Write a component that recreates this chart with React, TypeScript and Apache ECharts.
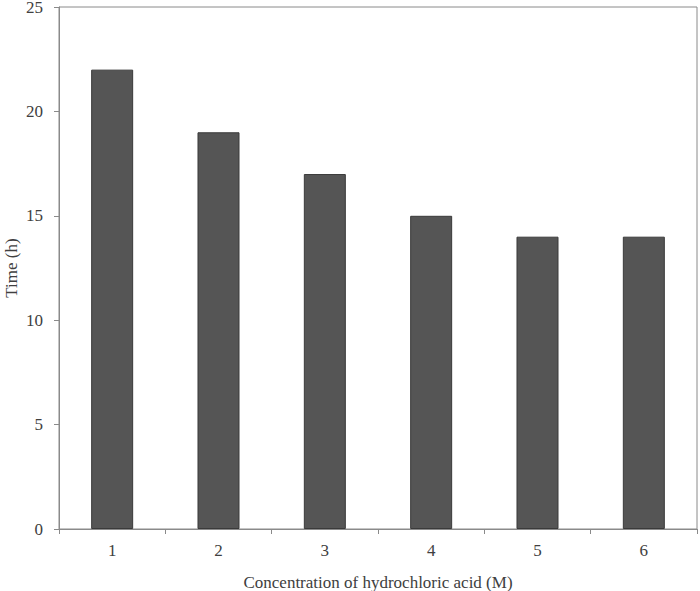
import React, { useEffect, useRef } from "react";
import * as echarts from "echarts";

const categories = ["1", "2", "3", "4", "5", "6"];
const timeValues = [22, 19, 17, 15, 14, 14];
const xAxisTitle = "Concentration of hydrochloric acid (M)";
const yAxisTitle = "Time (h)";

export default function App() {
  const ref = useRef<HTMLDivElement>(null);
  useEffect(() => {
    if (!ref.current) return;
    const chart = echarts.init(ref.current, undefined, { renderer: "svg" });
    const font = "'Liberation Serif', 'Times New Roman', serif";
    const axisColor = "#8a8a8a";
    const textColor = "#404040";
    chart.setOption({
      animation: false,
      backgroundColor: "#ffffff",
      grid: {
        left: 59,
        right: 3,
        top: 7,
        bottom: 62,
        containLabel: false,
        outerBoundsMode: "none",
        show: true,
        borderColor: axisColor,
        borderWidth: 1,
        backgroundColor: "transparent",
      },
      xAxis: {
        type: "category",
        data: categories,
        name: xAxisTitle,
        nameLocation: "middle",
        nameGap: 45,
        nameMoveOverlap: false,
        nameTextStyle: { fontFamily: font, fontSize: 17, color: textColor },
        axisLine: { lineStyle: { color: axisColor, width: 1 } },
        axisTick: { show: true, length: 5, lineStyle: { color: axisColor } },
        axisLabel: { fontFamily: font, fontSize: 17, color: textColor, margin: 13 },
        splitLine: { show: false },
      },
      yAxis: {
        type: "value",
        min: 0,
        max: 25,
        interval: 5,
        name: yAxisTitle,
        nameLocation: "middle",
        nameGap: 39,
        nameMoveOverlap: false,
        nameTextStyle: { fontFamily: font, fontSize: 17, color: textColor, lineHeight: 17 },
        axisLine: { show: true, lineStyle: { color: axisColor, width: 1 } },
        axisTick: { show: true, length: 5, lineStyle: { color: axisColor } },
        axisLabel: { fontFamily: font, fontSize: 17, color: textColor, margin: 16, lineHeight: 13 },
        splitLine: { show: false },
      },
      series: [
        {
          type: "bar",
          data: timeValues,
          barWidth: "39.5%",
          itemStyle: { color: "#555555", borderColor: "#3a3a3a", borderWidth: 1 },
        },
      ],
    });
    return () => chart.dispose();
  }, []);
  return <div ref={ref} style={{ width: 700, height: 591, position: "absolute", left: 0, top: 0 }} />;
}
